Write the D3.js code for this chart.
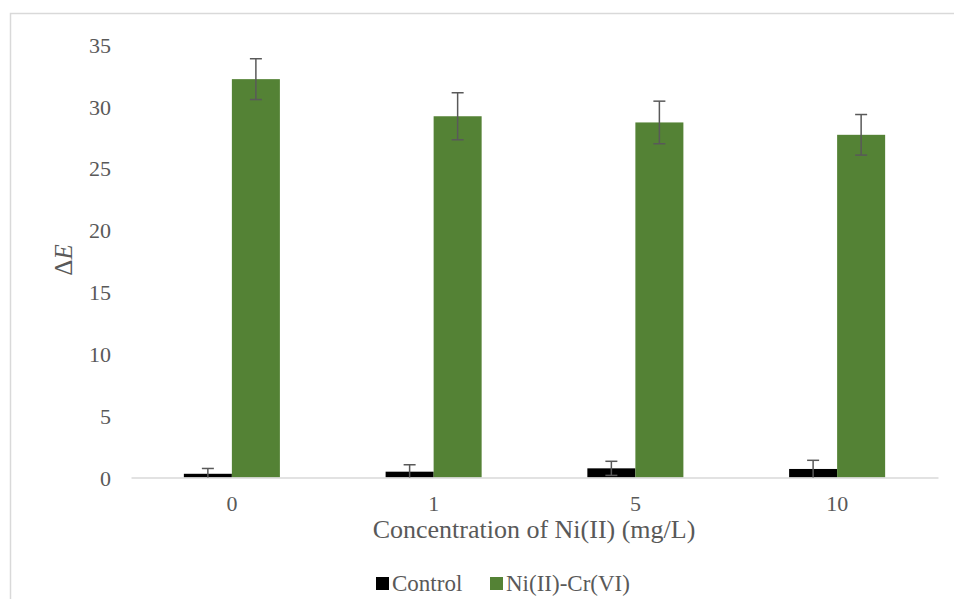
<!DOCTYPE html>
<html>
<head>
<meta charset="utf-8">
<script src="https://cdn.jsdelivr.net/npm/d3@7"></script>
<style>
  body { margin: 0; background: #fff; }
  text { font-family: "Liberation Serif", "Times New Roman", serif; fill: #595959; }
</style>
</head>
<body>
<svg id="chart" width="954" height="599"></svg>
<script>
// Values
const categories = ["0", "1", "5", "10"];
const seriesNames = ["Control", "Ni(II)-Cr(VI)"];
const controlValues = [0.3, 0.47, 0.74, 0.69];
const controlErrors = [0.43, 0.56, 0.57, 0.7];
const nicrValues = [32.2, 29.2, 28.7, 27.7];
const nicrErrors = [1.65, 1.9, 1.72, 1.64];
const yTicks = [0, 5, 10, 15, 20, 25, 30, 35];
const colors = ["#000000", "#548235"];

const svg = d3.select("#chart");

// chart frame
svg.append("rect")
    .attr("x", 10.5).attr("y", 13.5)
    .attr("width", 960).attr("height", 620)
    .attr("fill", "none")
    .attr("stroke", "#d9d9d9")
    .attr("stroke-width", 1.5);

const x = d3.scaleBand()
    .domain(categories)
    .range([131, 938])
    .paddingInner(0.524)
    .paddingOuter(0.262);

const xSub = d3.scaleBand()
    .domain(seriesNames)
    .range([0, x.bandwidth()]);

const y = d3.scaleLinear()
    .domain([0, 35])
    .range([477.5, 44.5]);

// y axis labels (no line, no ticks)
const yAxis = svg.append("g")
    .attr("transform", "translate(111,0)")
    .call(d3.axisLeft(y).tickValues(yTicks).tickSize(0).tickPadding(0));
yAxis.select(".domain").remove();
yAxis.selectAll("text")
    .attr("font-size", 22)
    .attr("font-family", "Liberation Serif")
    .attr("fill", "#595959")
    .attr("dy", "0.35em");

// rows of data per series
const series = [
    { name: seriesNames[0], values: controlValues, errors: controlErrors, color: colors[0] },
    { name: seriesNames[1], values: nicrValues, errors: nicrErrors, color: colors[1] }
];

const rows = [];
series.forEach(s => {
    categories.forEach((c, i) => {
        rows.push({ cat: c, name: s.name, value: s.values[i], err: s.errors[i], color: s.color });
    });
});

svg.append("g").selectAll("rect")
    .data(rows)
    .join("rect")
    .attr("x", d => x(d.cat) + xSub(d.name))
    .attr("y", d => y(d.value))
    .attr("width", xSub.bandwidth())
    .attr("height", d => y(0) - y(d.value))
    .attr("fill", d => d.color);

// x axis line
const xAxis = svg.append("g")
    .attr("transform", `translate(0,${y(0)})`)
    .call(d3.axisBottom(x).tickSize(0).tickPadding(0));
xAxis.select(".domain")
    .attr("stroke", "#d9d9d9")
    .attr("stroke-width", 1.5);
xAxis.selectAll("text")
    .attr("font-size", 22)
    .attr("font-family", "Liberation Serif")
    .attr("fill", "#595959")
    .attr("dy", "1.5em");

// error bars
const eb = svg.append("g")
    .attr("stroke", "#595959")
    .attr("stroke-width", 1.5)
    .attr("fill", "none");
const capHalf = 6;
rows.forEach(d => {
    const cx = x(d.cat) + xSub(d.name) + xSub.bandwidth() / 2;
    const top = y(d.value + d.err);
    const lowVal = d.value - d.err;
    const bottom = y(Math.max(0, lowVal));
    eb.append("line").attr("x1", cx).attr("x2", cx).attr("y1", top).attr("y2", bottom);
    eb.append("line").attr("x1", cx - capHalf).attr("x2", cx + capHalf).attr("y1", top).attr("y2", top);
    if (lowVal > 0) {
        eb.append("line").attr("x1", cx - capHalf).attr("x2", cx + capHalf).attr("y1", bottom).attr("y2", bottom);
    }
});

// axis titles
svg.append("text")
    .attr("x", 534)
    .attr("y", 538)
    .attr("text-anchor", "middle")
    .attr("font-size", 26)
    .text("Concentration of Ni(II) (mg/L)");

const yTitle = svg.append("text")
    .attr("transform", "translate(72,260) rotate(-90)")
    .attr("text-anchor", "middle")
    .attr("font-size", 25);
yTitle.append("tspan").text("Δ");
yTitle.append("tspan").attr("font-style", "italic").text("E");

// legend
const legend = svg.append("g");
const legendItems = [
    { name: seriesNames[0], color: colors[0], x: 376 },
    { name: seriesNames[1], color: colors[1], x: 490 }
];
legendItems.forEach(it => {
    legend.append("rect")
        .attr("x", it.x).attr("y", 577)
        .attr("width", 13).attr("height", 13)
        .attr("fill", it.color);
    legend.append("text")
        .attr("x", it.x + 16).attr("y", 591)
        .attr("font-size", 23)
        .text(it.name);
});
</script>
</body>
</html>
